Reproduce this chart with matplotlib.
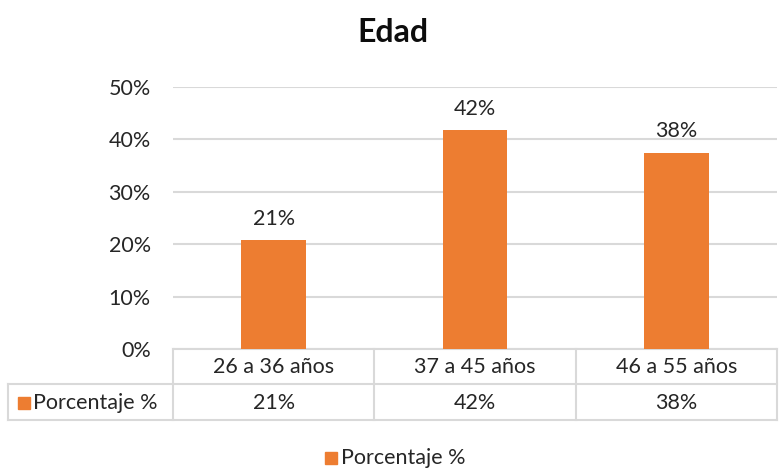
import matplotlib
matplotlib.use("Agg")
import matplotlib.pyplot as plt
from matplotlib.transforms import blended_transform_factory
from matplotlib.patches import Rectangle
from matplotlib.lines import Line2D

categories = ["26 a 36 años", "37 a 45 años", "46 a 55 años"]
values = [0.208, 0.417, 0.375]
labels = ["21%", "42%", "38%"]
series_name = "Porcentaje %"
title = "Edad"
yticks = [0, 0.1, 0.2, 0.3, 0.4, 0.5]

ORANGE = "#ED7D31"
GRID = "#D9D9D9"
TXT = "#262626"
FS = 15.5
W, H = 781, 471
plt.rcParams["font.family"] = ["Lato", "DejaVu Sans"]


def fy(py):
    return 1 - py / H


def fx(px):
    return px / W


fig = plt.figure(figsize=(W / 100, H / 100), dpi=100)
ax = fig.add_axes([fx(173), fy(349), fx(777) - fx(173), fy(87) - fy(349)])

x = list(range(len(categories)))
ax.bar(x, values, width=0.32, color=ORANGE, zorder=3)
for xi, v, lab in zip(x, values, labels):
    ax.annotate(lab, (xi, v), xytext=(0, 8), textcoords="offset points",
                ha="center", va="bottom", fontsize=FS, color=TXT)

ax.set_xlim(-0.5, len(categories) - 0.5)
ax.set_ylim(0, 0.5)
ax.set_yticks(yticks)
ax.set_yticklabels([f"{int(round(t * 100))}%" for t in yticks], fontsize=FS, color=TXT)
ax.set_xticks([])
ax.tick_params(axis="y", length=0, pad=16)
ax.grid(axis="y", color=GRID, lw=1.5, zorder=0)
for s in ["top", "right", "left"]:
    ax.spines[s].set_visible(False)
ax.spines["bottom"].set_color(GRID)
ax.spines["bottom"].set_linewidth(1.5)

fig.text(fx(393), fy(33), title, ha="center", va="center",
         fontsize=23, fontweight="bold", color="#0D0D0D")

# data table below the axis
tr = blended_transform_factory(ax.transData, fig.transFigure)
lw = 1.5
bounds = [-0.5 + i for i in range(len(categories) + 1)]
for b in bounds:
    fig.add_artist(Line2D([b, b], [fy(349), fy(420)], transform=tr, color=GRID, lw=lw))
fig.add_artist(Line2D([fx(8), fx(777)], [fy(384), fy(384)], transform=fig.transFigure, color=GRID, lw=lw))
fig.add_artist(Line2D([fx(8), fx(777)], [fy(420), fy(420)], transform=fig.transFigure, color=GRID, lw=lw))
fig.add_artist(Line2D([fx(8), fx(8)], [fy(384), fy(420)], transform=fig.transFigure, color=GRID, lw=lw))

for xi, cat, lab in zip(x, categories, labels):
    fig.text(0, fy(367), cat, transform=tr, ha="center", va="center", fontsize=FS, color=TXT).set_x(xi)
    fig.text(0, fy(403), lab, transform=tr, ha="center", va="center", fontsize=FS, color=TXT).set_x(xi)

fig.add_artist(Rectangle((fx(18), fy(409)), fx(12), fy(397) - fy(409),
                         transform=fig.transFigure, color=ORANGE))
fig.text(fx(33), fy(403), series_name, ha="left", va="center", fontsize=FS, color=TXT)

# legend
fig.add_artist(Rectangle((fx(325), fy(464)), fx(12), fy(452) - fy(464),
                         transform=fig.transFigure, color=ORANGE))
fig.text(fx(341), fy(458), series_name, ha="left", va="center", fontsize=FS, color=TXT)

fig.savefig("out.png", dpi=100, facecolor="white")
